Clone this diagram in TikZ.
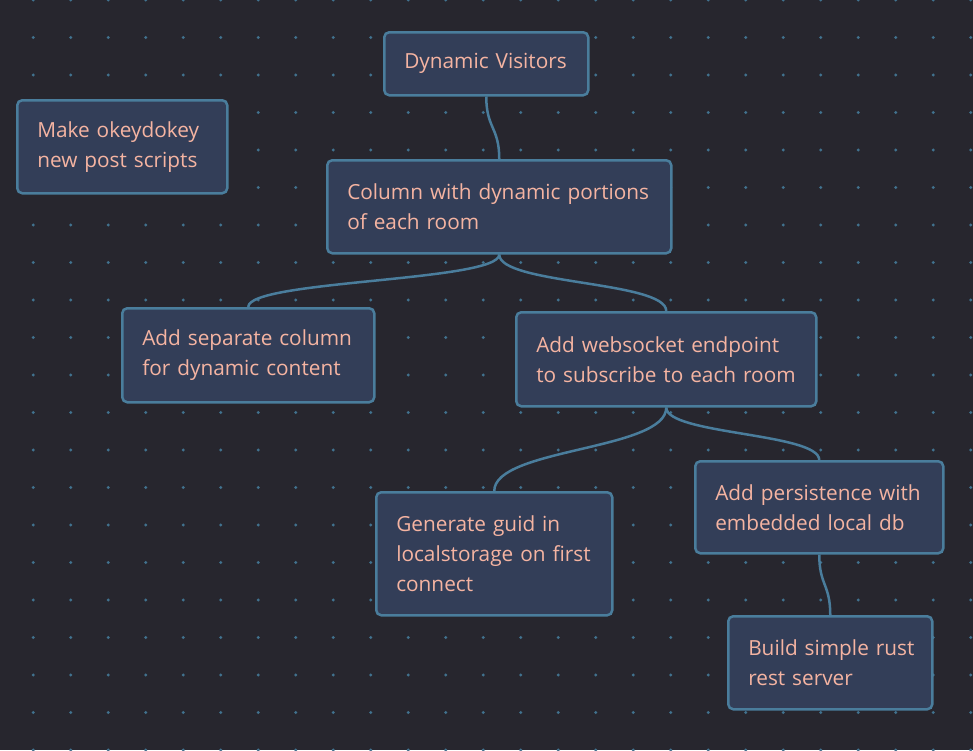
\documentclass[tikz,border=0pt]{standalone}
\usepackage{fontspec}
\setmainfont{Open Sans}
\usepackage{tikz}

\definecolor{bgcol}{HTML}{27262E}
\definecolor{dotcol}{HTML}{41728F}
\definecolor{cardfill}{HTML}{333E58}
\definecolor{cardline}{HTML}{4A7D9C}
\definecolor{cardtext}{HTML}{F5B4A2}

\tikzset{
    card/.style={draw=cardline, fill=cardfill, line width=2.5pt, rounded corners=5pt,
        anchor=north west, align=left, inner xsep=20pt, inner ysep=0pt,
        text=cardtext, font=\fontsize{20.8}{30}\selectfont},
    link/.style={draw=cardline, line width=2.5pt}
}
\hfuzz=30pt

\begin{document}
\begin{tikzpicture}[x=1pt,y=-1pt]
    % Background and dotted grid
    \fill[bgcol] (0,0) rectangle (973,750);
    \useasboundingbox (0,0) rectangle (973,750);
    \begin{scope}
        \clip (0,0) rectangle (973,750);
        \foreach \i in {0,...,25} {
            \foreach \j in {0,...,20} {
                \fill[dotcol] (33.3+37.5*\i,37.5*\j) circle [radius=1.6];
            }
        }
    \end{scope}

    % Cards
    \node[card, text width=164pt, minimum height=63pt] (visitors) at (383,31) {Dynamic Visitors};
    \node[card, text width=170pt, minimum height=93pt] (okeydokey) at (16,99) {Make okeydokey\\new post scripts};
    \node[card, text width=304pt, minimum height=93pt] (column) at (326,159) {\mbox{Column with dynamic portions}\\of each room};
    \node[card, text width=212pt, minimum height=94pt] (separate) at (121,307) {\mbox{Add separate column}\\for dynamic content};
    \node[card, text width=260pt, minimum height=94pt] (websocket) at (515,311) {Add websocket endpoint\\\mbox{to subscribe to each room}};
    \node[card, text width=196pt, minimum height=123pt] (guid) at (375,491) {Generate guid in\\\mbox{localstorage on first}\\connect};
    \node[card, text width=208pt, minimum height=92pt] (persist) at (694,460) {\mbox{Add persistence with}\\embedded local db};
    \node[card, text width=164pt, minimum height=93pt] (rust) at (727,615) {\mbox{Build simple rust}\\rest server};

    % Links
    \draw[link] (visitors.south) .. controls +(0,32) and +(0,-32) .. (column.north);
    \draw[link] (column.south) .. controls +(0,27) and +(0,-27) .. (separate.north);
    \draw[link] (column.south) .. controls +(0,30) and +(0,-30) .. (websocket.north);
    \draw[link] (websocket.south) .. controls +(0,43) and +(0,-43) .. (guid.north);
    \draw[link] (websocket.south) .. controls +(0,27) and +(0,-27) .. (persist.north);
    \draw[link] (persist.south) .. controls +(0,31) and +(0,-31) .. (rust.north);
\end{tikzpicture}
\end{document}
